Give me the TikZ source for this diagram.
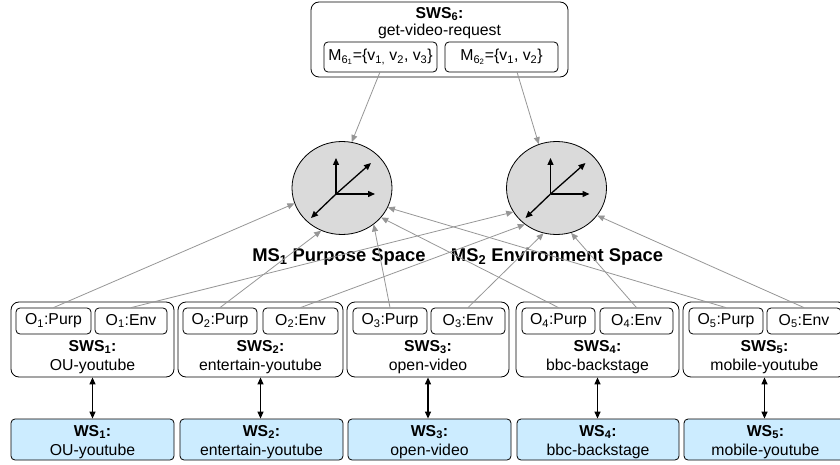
\documentclass[tikz,border=0pt]{standalone}
\usepackage{fontspec}
\setmainfont{Liberation Sans}
\usetikzlibrary{arrows.meta,shapes.geometric}
\definecolor{wsblue}{RGB}{204,236,255}
\definecolor{circgray}{RGB}{218,218,218}
\definecolor{linkgray}{RGB}{150,150,150}
\begin{document}
\begin{tikzpicture}[x=1pt,y=-1pt,
  txt/.style={inner sep=0pt, font=\fontsize{15.8}{17}\selectfont},
  btxt/.style={inner sep=0pt, font=\fontsize{15.8}{17}\selectfont\bfseries},
  bigbox/.style={draw, rounded corners=8pt, line width=0.8pt, minimum height=75pt, inner sep=0pt},
  obox/.style={draw, rounded corners=4pt, line width=0.8pt, minimum height=26pt, inner sep=0pt, font=\fontsize{15.8}{17}\selectfont},
  wsbox/.style={draw, fill=wsblue, rounded corners=4pt, line width=0.8pt, minimum height=41pt, inner sep=0pt},
  space/.style={draw, fill=circgray, ellipse, line width=0.8pt, minimum width=100pt, minimum height=93pt, inner sep=0pt},
  link/.style={draw=linkgray, line width=0.8pt, -{Triangle[length=7pt,width=6pt]}},
  axis/.style={line width=1.3pt, -{Triangle[length=7pt,width=6pt]}},
  dbl/.style={line width=1.2pt, {Triangle[length=7pt,width=6pt]}-{Triangle[length=7pt,width=6pt]}},
  mslabel/.style={inner sep=0pt, font=\fontsize{18.4}{20}\selectfont\bfseries}]
\useasboundingbox (0,0) rectangle (840,465);

% top service
\node[bigbox, minimum width=257pt] (sws6) at (439.5,39.5) {};
\node[btxt] (sws6t) at (439.5,14) {SWS\textsubscript{6}:};
\node[txt] (sws6n) at (439.5,31.5) {get-video-request};
\node[obox, minimum width=113pt, minimum height=30pt] (m61) at (380.5,57) {M\textsubscript{6\textsubscript{1}}=\{v\textsubscript{1,} v\textsubscript{2}, v\textsubscript{3}\}};
\node[obox, minimum width=113pt, minimum height=30pt] (m62) at (501.5,57) {M\textsubscript{6\textsubscript{2}}=\{v\textsubscript{1}, v\textsubscript{2}\}};
\coordinate (m61s) at (380,72);
\coordinate (m62s) at (517,72);

% spaces
\node[space] (c1) at (342,188) {};
\node[space] (c2) at (556.5,188) {};
\foreach \c in {c1,c2}{
  \draw[axis] ([shift={(-6,6)}]\c.center) -- ++(0,-36);
  \draw[axis] ([shift={(-6,6)}]\c.center) -- ++(39,0);
  \draw[axis] ([shift={(-6,6)}]\c.center) -- ++(35,-31);
  \draw[axis] ([shift={(-6,6)}]\c.center) -- ++(-25,24);
}
\node[mslabel] (ms1) at (339,257) {MS\textsubscript{1} Purpose Space};
\node[mslabel] (ms2) at (557,257) {MS\textsubscript{2} Environment Space};

% semantic web services
\node[bigbox, minimum width=163pt] (sws1) at (92.5,339.5) {};
\node[bigbox, minimum width=165pt] (sws2) at (260.5,339.5) {};
\node[bigbox, minimum width=162pt] (sws3) at (428,339.5) {};
\node[bigbox, minimum width=163pt] (sws4) at (597.5,339.5) {};
\node[bigbox, minimum width=163pt] (sws5) at (764.5,339.5) {};

\node[obox, minimum width=75pt] (o1p) at (53.5,321) {O\textsubscript{1}:Purp};
\node[obox, minimum width=72pt] (o1e) at (131,321) {O\textsubscript{1}:Env};
\node[obox, minimum width=74pt] (o2p) at (220,321) {O\textsubscript{2}:Purp};
\node[obox, minimum width=75pt] (o2e) at (300.5,321) {O\textsubscript{2}:Env};
\node[obox, minimum width=74pt] (o3p) at (390,321) {O\textsubscript{3}:Purp};
\node[obox, minimum width=74pt] (o3e) at (468,321) {O\textsubscript{3}:Env};
\node[obox, minimum width=73pt] (o4p) at (558.5,321) {O\textsubscript{4}:Purp};
\node[obox, minimum width=73pt] (o4e) at (636.5,321) {O\textsubscript{4}:Env};
\node[obox, minimum width=74pt] (o5p) at (726,321) {O\textsubscript{5}:Purp};
\node[obox, minimum width=74pt] (o5e) at (804,321) {O\textsubscript{5}:Env};

\node[btxt] (sws1t) at (92.5,347) {SWS\textsubscript{1}:};
\node[txt]  (sws1n) at (92.5,366) {OU-youtube};
\node[btxt] (sws2t) at (260.5,347) {SWS\textsubscript{2}:};
\node[txt]  (sws2n) at (260.5,366) {entertain-youtube};
\node[btxt] (sws3t) at (428,347) {SWS\textsubscript{3}:};
\node[txt]  (sws3n) at (428,366) {open-video};
\node[btxt] (sws4t) at (597.5,347) {SWS\textsubscript{4}:};
\node[txt]  (sws4n) at (597.5,366) {bbc-backstage};
\node[btxt] (sws5t) at (764.5,347) {SWS\textsubscript{5}:};
\node[txt]  (sws5n) at (764.5,366) {mobile-youtube};

% web services
\node[wsbox, minimum width=163pt] (ws1) at (92.5,439.5) {};
\node[wsbox, minimum width=163pt] (ws2) at (261.5,439.5) {};
\node[wsbox, minimum width=163pt] (ws3) at (429.5,439.5) {};
\node[wsbox, minimum width=162pt] (ws4) at (598,439.5) {};
\node[wsbox, minimum width=163pt] (ws5) at (765.5,439.5) {};
\node[btxt] (ws1t) at (92.5,432) {WS\textsubscript{1}:};
\node[txt]  (ws1n) at (92.5,451) {OU-youtube};
\node[btxt] (ws2t) at (261.5,432) {WS\textsubscript{2}:};
\node[txt]  (ws2n) at (261.5,451) {entertain-youtube};
\node[btxt] (ws3t) at (429.5,432) {WS\textsubscript{3}:};
\node[txt]  (ws3n) at (429.5,451) {open-video};
\node[btxt] (ws4t) at (598,432) {WS\textsubscript{4}:};
\node[txt]  (ws4n) at (598,451) {bbc-backstage};
\node[btxt] (ws5t) at (765.5,432) {WS\textsubscript{5}:};
\node[txt]  (ws5n) at (765.5,451) {mobile-youtube};

\foreach \i in {1,...,5}{
  \draw[dbl] (sws\i.south) -- (sws\i.south |- ws\i.north);
}

% links to spaces
\draw[link] (m61s) -- (c1.78);
\draw[link] (m62s) -- (c2.112);
\draw[link] (o1p.north) -- (c1.198);
\draw[link] (o2p.north) -- (c1.244);
\draw[link] (o3p.north) -- (c1.311);
\draw[link] (o4p.north) -- (c1.323);
\draw[link] (o5p.north) -- (c1.337);
\draw[link] (o1e.north) -- (c2.209);
\draw[link] (o2e.north) -- (c2.229);
\draw[link] (o3e.north) -- (c2.254);
\draw[link] (o4e.north) -- (c2.288);
\draw[link] (o5e.north) -- (c2.326);
\end{tikzpicture}
\end{document}
